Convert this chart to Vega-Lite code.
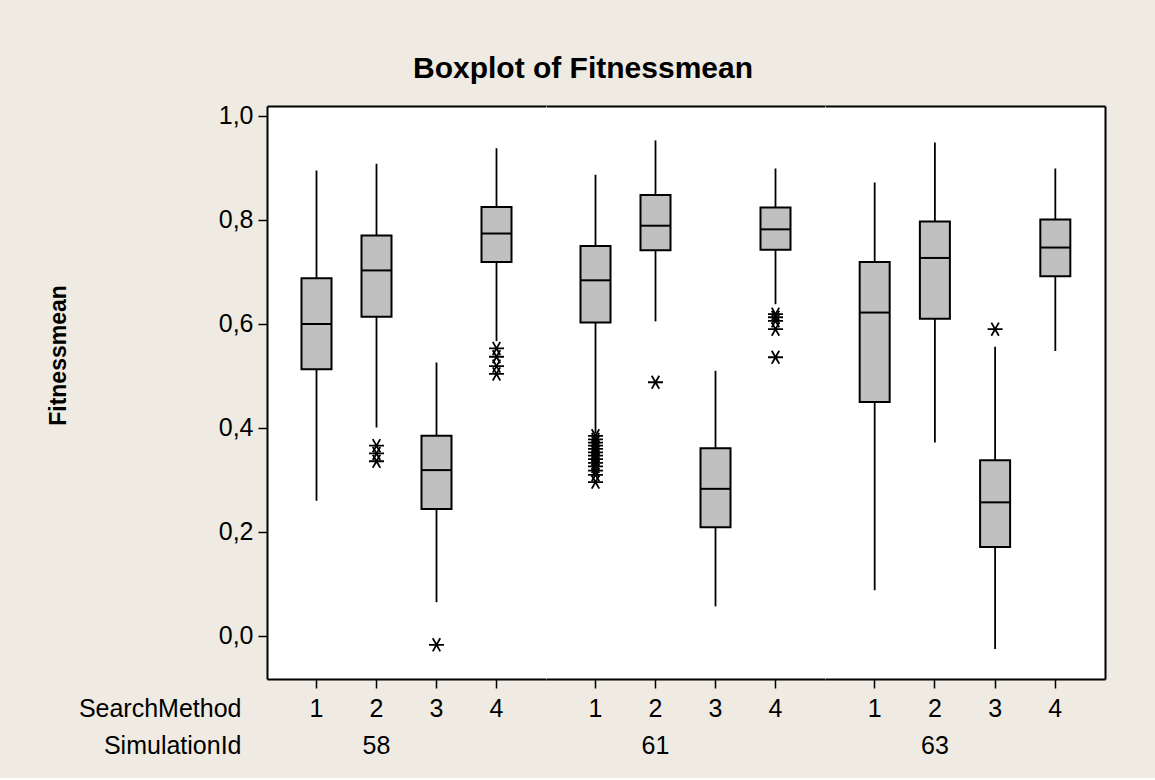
{
  "$schema": "https://vega.github.io/schema/vega-lite/v6.json",
  "background": "#EFEBE2",
  "padding": {"left": 46, "top": 53, "right": 51, "bottom": 20},
  "bounds": "flush",
  "spacing": 0,
  "title": {"text": "Boxplot of Fitnessmean", "font": "Liberation Sans", "fontSize": 30, "fontWeight": "bold", "anchor": "middle", "frame": "bounds", "offset": 20, "color": "black", "dx": 7},
  "datasets": {
    "boxes": [
      {"SimulationId": 58, "SearchMethod": 1, "lower": 0.260, "q1": 0.513, "median": 0.600, "q3": 0.688, "upper": 0.895},
      {"SimulationId": 58, "SearchMethod": 2, "lower": 0.401, "q1": 0.614, "median": 0.703, "q3": 0.770, "upper": 0.908},
      {"SimulationId": 58, "SearchMethod": 3, "lower": 0.065, "q1": 0.244, "median": 0.319, "q3": 0.385, "upper": 0.526},
      {"SimulationId": 58, "SearchMethod": 4, "lower": 0.567, "q1": 0.719, "median": 0.774, "q3": 0.825, "upper": 0.938},
      {"SimulationId": 61, "SearchMethod": 1, "lower": 0.390, "q1": 0.603, "median": 0.684, "q3": 0.750, "upper": 0.887},
      {"SimulationId": 61, "SearchMethod": 2, "lower": 0.605, "q1": 0.742, "median": 0.789, "q3": 0.848, "upper": 0.953},
      {"SimulationId": 61, "SearchMethod": 3, "lower": 0.057, "q1": 0.209, "median": 0.283, "q3": 0.361, "upper": 0.510},
      {"SimulationId": 61, "SearchMethod": 4, "lower": 0.638, "q1": 0.743, "median": 0.782, "q3": 0.824, "upper": 0.899},
      {"SimulationId": 63, "SearchMethod": 1, "lower": 0.088, "q1": 0.450, "median": 0.622, "q3": 0.719, "upper": 0.872},
      {"SimulationId": 63, "SearchMethod": 2, "lower": 0.372, "q1": 0.610, "median": 0.727, "q3": 0.797, "upper": 0.949},
      {"SimulationId": 63, "SearchMethod": 3, "lower": -0.025, "q1": 0.171, "median": 0.257, "q3": 0.338, "upper": 0.556},
      {"SimulationId": 63, "SearchMethod": 4, "lower": 0.548, "q1": 0.692, "median": 0.747, "q3": 0.801, "upper": 0.899}
    ],
    "outliers": [
      {"SimulationId": 58, "SearchMethod": 2, "Fitnessmean": 0.366},
      {"SimulationId": 58, "SearchMethod": 2, "Fitnessmean": 0.351},
      {"SimulationId": 58, "SearchMethod": 2, "Fitnessmean": 0.336},
      {"SimulationId": 58, "SearchMethod": 3, "Fitnessmean": -0.017},
      {"SimulationId": 58, "SearchMethod": 4, "Fitnessmean": 0.553},
      {"SimulationId": 58, "SearchMethod": 4, "Fitnessmean": 0.537},
      {"SimulationId": 58, "SearchMethod": 4, "Fitnessmean": 0.519},
      {"SimulationId": 58, "SearchMethod": 4, "Fitnessmean": 0.504},
      {"SimulationId": 61, "SearchMethod": 1, "Fitnessmean": 0.385},
      {"SimulationId": 61, "SearchMethod": 1, "Fitnessmean": 0.378},
      {"SimulationId": 61, "SearchMethod": 1, "Fitnessmean": 0.372},
      {"SimulationId": 61, "SearchMethod": 1, "Fitnessmean": 0.366},
      {"SimulationId": 61, "SearchMethod": 1, "Fitnessmean": 0.360},
      {"SimulationId": 61, "SearchMethod": 1, "Fitnessmean": 0.353},
      {"SimulationId": 61, "SearchMethod": 1, "Fitnessmean": 0.347},
      {"SimulationId": 61, "SearchMethod": 1, "Fitnessmean": 0.340},
      {"SimulationId": 61, "SearchMethod": 1, "Fitnessmean": 0.333},
      {"SimulationId": 61, "SearchMethod": 1, "Fitnessmean": 0.326},
      {"SimulationId": 61, "SearchMethod": 1, "Fitnessmean": 0.318},
      {"SimulationId": 61, "SearchMethod": 1, "Fitnessmean": 0.310},
      {"SimulationId": 61, "SearchMethod": 1, "Fitnessmean": 0.296},
      {"SimulationId": 61, "SearchMethod": 2, "Fitnessmean": 0.488},
      {"SimulationId": 61, "SearchMethod": 4, "Fitnessmean": 0.619},
      {"SimulationId": 61, "SearchMethod": 4, "Fitnessmean": 0.613},
      {"SimulationId": 61, "SearchMethod": 4, "Fitnessmean": 0.606},
      {"SimulationId": 61, "SearchMethod": 4, "Fitnessmean": 0.590},
      {"SimulationId": 61, "SearchMethod": 4, "Fitnessmean": 0.536},
      {"SimulationId": 63, "SearchMethod": 3, "Fitnessmean": 0.590}
    ]
  },
  "config": {
    "view": {"stroke": null, "fill": "white"},
    "font": "Liberation Sans",
    "axis": {"labelFont": "Liberation Sans", "labelFontSize": 25, "labelColor": "#000", "titleFont": "Liberation Sans", "titleColor": "#000", "titleFontWeight": "normal", "titleFontSize": 25, "tickColor": "#000", "domainColor": "#000", "domainWidth": 2, "tickWidth": 1.5, "grid": false, "labelFlush": false, "labelAngle": 0}
  },
  "resolve": {"scale": {"x": "independent", "y": "independent"}, "axis": {"x": "independent", "y": "independent"}},
  "hconcat": [
    {
      "width": 279, "height": 573,
      "layer": [
        {"data": {"name": "boxes"}, "transform": [{"filter": "datum.SimulationId == 58"}],
         "mark": {"type": "rule", "color": "black", "strokeWidth": 1.8, "opacity": 1},
         "encoding": {
           "x": {"field": "SearchMethod", "type": "ordinal", "scale": {"type": "band", "domain": [1, 2, 3, 4], "paddingInner": 0, "paddingOuter": 0.325},
                 "axis": {"orient": "bottom", "tickSize": 9, "labelPadding": 8, "domain": true, "title": "SearchMethod", "titleX": -26, "titleY": 37, "titleAlign": "right", "titleBaseline": "alphabetic", "titleAngle": 0}},
           "y": {"field": "lower", "type": "quantitative", "scale": {"domain": [-0.0827, 1.0192], "nice": false, "zero": false},
                 "axis": {"orient": "left", "values": [0, 0.2, 0.4, 0.6, 0.8, 1.0], "labelExpr": "replace(format(datum.value, '.1f'), '.', ',')", "tickSize": 9, "labelPadding": 5, "title": "Fitnessmean", "titleFontWeight": "bold", "titleFontSize": 23, "titleX": -209, "titleY": 249, "titleAngle": -90, "titleAlign": "center", "titleBaseline": "middle"}},
           "y2": {"field": "upper"}
         }},
        {"data": {"name": "boxes"}, "transform": [{"filter": "datum.SimulationId == 58"}],
         "mark": {"type": "bar", "fill": "#C0C0C0", "stroke": "black", "strokeWidth": 2, "size": 30, "opacity": 1},
         "encoding": {
           "x": {"field": "SearchMethod", "type": "ordinal", "scale": {"type": "band", "domain": [1, 2, 3, 4], "paddingInner": 0, "paddingOuter": 0.325},
                 "axis": {"orient": "bottom", "values": [2], "bandPosition": 1, "labelExpr": "'58'", "ticks": false, "tickSize": 0, "domain": false, "labelPadding": 54, "title": "SimulationId", "titleX": -26, "titleY": 74, "titleAlign": "right", "titleBaseline": "alphabetic", "titleAngle": 0}},
           "y": {"field": "q1", "type": "quantitative", "scale": {"domain": [-0.0827, 1.0192], "nice": false, "zero": false}, "axis": null},
           "y2": {"field": "q3"}
         }},
        {"data": {"name": "boxes"}, "transform": [{"filter": "datum.SimulationId == 58"}],
         "mark": {"type": "tick", "color": "black", "size": 30, "thickness": 2, "opacity": 1},
         "encoding": {
           "x": {"field": "SearchMethod", "type": "ordinal", "scale": {"type": "band", "domain": [1, 2, 3, 4], "paddingInner": 0, "paddingOuter": 0.325},
                 "axis": {"orient": "top", "labels": false, "ticks": false, "domain": true, "title": null}},
           "y": {"field": "median", "type": "quantitative", "scale": {"domain": [-0.0827, 1.0192], "nice": false, "zero": false}, "axis": null}
         }},
        {"data": {"name": "outliers"}, "transform": [{"filter": "datum.SimulationId == 58"}],
         "mark": {"type": "point", "shape": "M-1,0L1,0M-0.5,-0.87L0.5,0.87M0.5,-0.87L-0.5,0.87", "size": 225, "color": "black", "filled": false, "strokeWidth": 1.8, "opacity": 1},
         "encoding": {
           "x": {"field": "SearchMethod", "type": "ordinal", "scale": {"type": "band", "domain": [1, 2, 3, 4], "paddingInner": 0, "paddingOuter": 0.325}, "axis": null},
           "y": {"field": "Fitnessmean", "type": "quantitative", "scale": {"domain": [-0.0827, 1.0192], "nice": false, "zero": false}, "axis": null}
         }}
      ],
      "resolve": {"axis": {"x": "independent", "y": "independent"}}
    },
    {
      "width": 279, "height": 573,
      "layer": [
        {"data": {"name": "boxes"}, "transform": [{"filter": "datum.SimulationId == 61"}],
         "mark": {"type": "rule", "color": "black", "strokeWidth": 1.8, "opacity": 1},
         "encoding": {
           "x": {"field": "SearchMethod", "type": "ordinal", "scale": {"type": "band", "domain": [1, 2, 3, 4], "paddingInner": 0, "paddingOuter": 0.325},
                 "axis": {"orient": "bottom", "tickSize": 9, "labelPadding": 8, "domain": true, "title": null}},
           "y": {"field": "lower", "type": "quantitative", "scale": {"domain": [-0.0827, 1.0192], "nice": false, "zero": false}, "axis": null},
           "y2": {"field": "upper"}
         }},
        {"data": {"name": "boxes"}, "transform": [{"filter": "datum.SimulationId == 61"}],
         "mark": {"type": "bar", "fill": "#C0C0C0", "stroke": "black", "strokeWidth": 2, "size": 30, "opacity": 1},
         "encoding": {
           "x": {"field": "SearchMethod", "type": "ordinal", "scale": {"type": "band", "domain": [1, 2, 3, 4], "paddingInner": 0, "paddingOuter": 0.325},
                 "axis": {"orient": "bottom", "values": [2], "bandPosition": 1, "labelExpr": "'61'", "ticks": false, "tickSize": 0, "domain": false, "labelPadding": 54, "title": null}},
           "y": {"field": "q1", "type": "quantitative", "scale": {"domain": [-0.0827, 1.0192], "nice": false, "zero": false}, "axis": null},
           "y2": {"field": "q3"}
         }},
        {"data": {"name": "boxes"}, "transform": [{"filter": "datum.SimulationId == 61"}],
         "mark": {"type": "tick", "color": "black", "size": 30, "thickness": 2, "opacity": 1},
         "encoding": {
           "x": {"field": "SearchMethod", "type": "ordinal", "scale": {"type": "band", "domain": [1, 2, 3, 4], "paddingInner": 0, "paddingOuter": 0.325},
                 "axis": {"orient": "top", "labels": false, "ticks": false, "domain": true, "title": null}},
           "y": {"field": "median", "type": "quantitative", "scale": {"domain": [-0.0827, 1.0192], "nice": false, "zero": false}, "axis": null}
         }},
        {"data": {"name": "outliers"}, "transform": [{"filter": "datum.SimulationId == 61"}],
         "mark": {"type": "point", "shape": "M-1,0L1,0M-0.5,-0.87L0.5,0.87M0.5,-0.87L-0.5,0.87", "size": 225, "color": "black", "filled": false, "strokeWidth": 1.8, "opacity": 1},
         "encoding": {
           "x": {"field": "SearchMethod", "type": "ordinal", "scale": {"type": "band", "domain": [1, 2, 3, 4], "paddingInner": 0, "paddingOuter": 0.325}, "axis": null},
           "y": {"field": "Fitnessmean", "type": "quantitative", "scale": {"domain": [-0.0827, 1.0192], "nice": false, "zero": false}, "axis": null}
         }}
      ],
      "resolve": {"axis": {"x": "independent", "y": "independent"}}
    },
    {
      "width": 280, "height": 573,
      "layer": [
        {"data": {"name": "boxes"}, "transform": [{"filter": "datum.SimulationId == 63"}],
         "mark": {"type": "rule", "color": "black", "strokeWidth": 1.8, "opacity": 1},
         "encoding": {
           "x": {"field": "SearchMethod", "type": "ordinal", "scale": {"type": "band", "domain": [1, 2, 3, 4], "paddingInner": 0, "paddingOuter": 0.325},
                 "axis": {"orient": "bottom", "tickSize": 9, "labelPadding": 8, "domain": true, "title": null}},
           "y": {"field": "lower", "type": "quantitative", "scale": {"domain": [-0.0827, 1.0192], "nice": false, "zero": false}, "axis": null},
           "y2": {"field": "upper"}
         }},
        {"data": {"name": "boxes"}, "transform": [{"filter": "datum.SimulationId == 63"}],
         "mark": {"type": "bar", "fill": "#C0C0C0", "stroke": "black", "strokeWidth": 2, "size": 30, "opacity": 1},
         "encoding": {
           "x": {"field": "SearchMethod", "type": "ordinal", "scale": {"type": "band", "domain": [1, 2, 3, 4], "paddingInner": 0, "paddingOuter": 0.325},
                 "axis": {"orient": "bottom", "values": [2], "bandPosition": 1, "labelExpr": "'63'", "ticks": false, "tickSize": 0, "domain": false, "labelPadding": 54, "title": null}},
           "y": {"field": "q1", "type": "quantitative", "scale": {"domain": [-0.0827, 1.0192], "nice": false, "zero": false},
                 "axis": {"orient": "right", "labels": false, "ticks": false, "domain": true, "title": null}},
           "y2": {"field": "q3"}
         }},
        {"data": {"name": "boxes"}, "transform": [{"filter": "datum.SimulationId == 63"}],
         "mark": {"type": "tick", "color": "black", "size": 30, "thickness": 2, "opacity": 1},
         "encoding": {
           "x": {"field": "SearchMethod", "type": "ordinal", "scale": {"type": "band", "domain": [1, 2, 3, 4], "paddingInner": 0, "paddingOuter": 0.325},
                 "axis": {"orient": "top", "labels": false, "ticks": false, "domain": true, "title": null}},
           "y": {"field": "median", "type": "quantitative", "scale": {"domain": [-0.0827, 1.0192], "nice": false, "zero": false}, "axis": null}
         }},
        {"data": {"name": "outliers"}, "transform": [{"filter": "datum.SimulationId == 63"}],
         "mark": {"type": "point", "shape": "M-1,0L1,0M-0.5,-0.87L0.5,0.87M0.5,-0.87L-0.5,0.87", "size": 225, "color": "black", "filled": false, "strokeWidth": 1.8, "opacity": 1},
         "encoding": {
           "x": {"field": "SearchMethod", "type": "ordinal", "scale": {"type": "band", "domain": [1, 2, 3, 4], "paddingInner": 0, "paddingOuter": 0.325}, "axis": null},
           "y": {"field": "Fitnessmean", "type": "quantitative", "scale": {"domain": [-0.0827, 1.0192], "nice": false, "zero": false}, "axis": null}
         }}
      ],
      "resolve": {"axis": {"x": "independent", "y": "independent"}}
    }
  ]
}
